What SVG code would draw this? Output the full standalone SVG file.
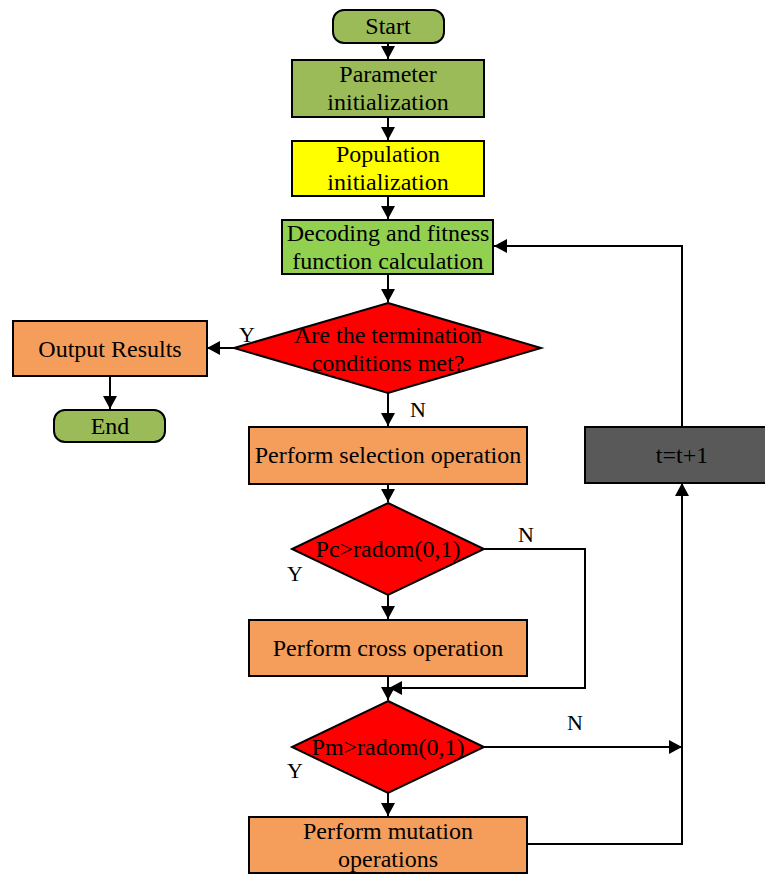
<svg xmlns="http://www.w3.org/2000/svg" width="765" height="874" viewBox="0 0 765 874">
<style>
.n{stroke:#000;stroke-width:2}
.t{font-family:"Liberation Serif","Times New Roman",serif;font-size:24px;fill:#000;text-anchor:middle}
.l{font-family:"Liberation Serif","Times New Roman",serif;font-size:22px;fill:#000;text-anchor:middle}
.c{fill:none;stroke:#000;stroke-width:2}
</style>
<defs>
<marker id="a" markerUnits="userSpaceOnUse" markerWidth="16" markerHeight="16" refX="13" refY="7" orient="auto">
<path d="M0,0 L13,7 L0,14 Z" fill="#000"/>
</marker>
</defs>
<rect width="765" height="874" fill="#fff"/>
<g id="connectors">
<path class="c" d="M388,43 V59" marker-end="url(#a)"/>
<path class="c" d="M388,117 V140" marker-end="url(#a)"/>
<path class="c" d="M388,196 V219" marker-end="url(#a)"/>
<path class="c" d="M388,274 V302" marker-end="url(#a)"/>
<path class="c" d="M234,348 H207" marker-end="url(#a)"/>
<path class="c" d="M110,376 V409" marker-end="url(#a)"/>
<path class="c" d="M388,393 V426" marker-end="url(#a)"/>
<path class="c" d="M388,484 V502" marker-end="url(#a)"/>
<path class="c" d="M388,595 V619" marker-end="url(#a)"/>
<path class="c" d="M484,549 H585 V688 H389" marker-end="url(#a)"/>
<path class="c" d="M388,676 V700" marker-end="url(#a)"/>
<path class="c" d="M484,747 H682" marker-end="url(#a)"/>
<path class="c" d="M388,793 V816" marker-end="url(#a)"/>
<path class="c" d="M527,844 H682 V483" marker-end="url(#a)"/>
<path class="c" d="M682,427 V246 H494" marker-end="url(#a)"/>
<text class="l" x="247" y="342">Y</text>
<text class="l" x="418" y="417">N</text>
<text class="l" x="526" y="542">N</text>
<text class="l" x="295" y="581">Y</text>
<text class="l" x="575" y="730">N</text>
<text class="l" x="295" y="778">Y</text>
</g>
<g id="start">
<rect class="n" x="333" y="10" width="111" height="33" rx="11" fill="#9BBB59"/>
<text class="t" x="388" y="34">Start</text>
</g>
<g id="param">
<rect class="n" x="292" y="60" width="192" height="57" fill="#9BBB59"/>
<text class="t" x="388" y="82">Parameter</text>
<text class="t" x="388" y="110">initialization</text>
</g>
<g id="pop">
<rect class="n" x="292" y="141" width="192" height="55" fill="#FFFF00"/>
<text class="t" x="388" y="162">Population</text>
<text class="t" x="388" y="190">initialization</text>
</g>
<g id="decode">
<rect class="n" x="282" y="220" width="211" height="54" fill="#92D050"/>
<text class="t" x="388" y="241">Decoding and fitness</text>
<text class="t" x="388" y="269">function calculation</text>
</g>
<g id="term">
<polygon class="n" points="388,303 541,348 388,393 234,348" fill="#FF0000"/>
<text class="t" x="388" y="343">Are the termination</text>
<text class="t" x="388" y="371">conditions met?</text>
</g>
<g id="output">
<rect class="n" x="13" y="321" width="194" height="55" fill="#F59D5A"/>
<text class="t" x="110" y="357">Output Results</text>
</g>
<g id="end">
<rect class="n" x="54" y="410" width="111" height="32" rx="11" fill="#9BBB59"/>
<text class="t" x="110" y="434">End</text>
</g>
<g id="select">
<rect class="n" x="249" y="427" width="278" height="57" fill="#F59D5A"/>
<text class="t" x="388" y="463">Perform selection operation</text>
</g>
<g id="tinc">
<rect class="n" x="585" y="427" width="185" height="56" fill="#595959"/>
<text class="t" x="682" y="463">t=t+1</text>
</g>
<g id="pc">
<polygon class="n" points="388,503 484,549 388,595 292,549" fill="#FF0000"/>
<text class="t" x="388" y="557">Pc&gt;radom(0,1)</text>
</g>
<g id="cross">
<rect class="n" x="249" y="620" width="278" height="56" fill="#F59D5A"/>
<text class="t" x="388" y="656">Perform cross operation</text>
</g>
<g id="pm">
<polygon class="n" points="388,701 484,747 388,793 292,747" fill="#FF0000"/>
<text class="t" x="388" y="755">Pm&gt;radom(0,1)</text>
</g>
<g id="mutation">
<rect class="n" x="249" y="817" width="278" height="56" fill="#F59D5A"/>
<text class="t" x="388" y="839">Perform mutation</text>
<text class="t" x="388" y="867">operations</text>
</g>
</svg>
